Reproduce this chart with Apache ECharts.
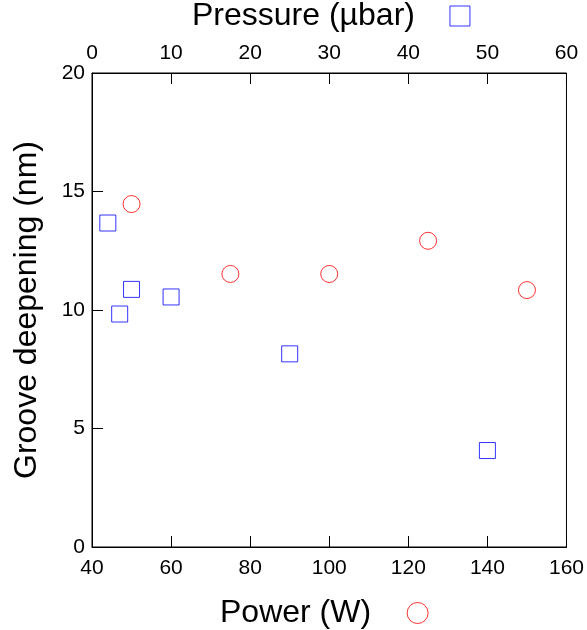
<!DOCTYPE html>
<html>
<head>
<meta charset="utf-8">
<script src="https://cdn.jsdelivr.net/npm/echarts@6/dist/echarts.min.js"></script>
<style>html,body{margin:0;padding:0;background:#fff}#c{width:587px;height:630px}</style>
</head>
<body>
<div id="c"></div>
<script>
// Data
const powerW = [50, 75, 100, 125, 150];
const powerDepth = [14.47, 11.52, 11.52, 12.92, 10.84];
const pressureUbar = [2, 3.5, 5, 10, 25, 50];
const pressureDepth = [13.67, 9.83, 10.87, 10.55, 8.15, 4.07];
const powerName = 'Power (W)';
const pressureName = 'Pressure (µbar)';
const yName = 'Groove deepening (nm)';

const FONT = "'Liberation Sans', Arial, Helvetica, sans-serif";
const chart = echarts.init(document.getElementById('c'), null, {renderer: 'canvas'});
const axisCommon = {
  axisLine: {show: true, lineStyle: {color: '#000', width: 1}},
  axisTick: {show: true, inside: true, length: 11, lineStyle: {color: '#000', width: 1}},
  splitLine: {show: false},
  axisLabel: {color: '#000', fontSize: 21, fontFamily: FONT}
};
chart.setOption({
  animation: false,
  backgroundColor: '#fff',
  grid: {left: 92, right: 19, top: 73, bottom: 83, show: true, borderColor: '#000', borderWidth: 1, backgroundColor: 'transparent'},
  legend: [
    {
      data: [{name: pressureName, icon: 'rect', itemStyle: {color: '#fff', borderColor: '#0000ff', borderWidth: 1}}],
      left: 192, top: 0, padding: 0, align: 'right', itemWidth: 20, itemHeight: 20,
      selectedMode: false,
      textStyle: {fontSize: 32, color: '#000', fontFamily: FONT, padding: [0, 30, 0, 0]}
    },
    {
      data: [{name: powerName, icon: 'circle', itemStyle: {color: '#fff', borderColor: '#ff0000', borderWidth: 1}}],
      left: 220, top: 597, padding: 0, align: 'right', itemWidth: 21, itemHeight: 21,
      selectedMode: false,
      textStyle: {fontSize: 32, color: '#000', fontFamily: FONT, padding: [0, 31, 0, 0]}
    }
  ],
  xAxis: [
    Object.assign({}, axisCommon, {
      type: 'value', position: 'bottom', min: 40, max: 160, interval: 20,
      axisLabel: Object.assign({}, axisCommon.axisLabel, {margin: 11})
    }),
    Object.assign({}, axisCommon, {
      type: 'value', position: 'top', min: 0, max: 60, interval: 10,
      axisLabel: Object.assign({}, axisCommon.axisLabel, {margin: 9})
    })
  ],
  yAxis: [
    Object.assign({}, axisCommon, {
      type: 'value', position: 'left', min: 0, max: 20, interval: 5,
      name: yName, nameLocation: 'middle', nameRotate: 90, nameGap: 49,
      nameTextStyle: {fontSize: 32, color: '#000', fontFamily: FONT},
      axisLabel: Object.assign({}, axisCommon.axisLabel, {margin: 7})
    })
  ],
  series: [
    {
      name: powerName, type: 'scatter', xAxisIndex: 0, yAxisIndex: 0,
      data: powerW.map((v, i) => [v, powerDepth[i]]),
      symbol: 'circle', symbolSize: 17, z: 3,
      itemStyle: {color: 'rgba(255,255,255,0)', borderColor: '#ff0000', borderWidth: 1}
    },
    {
      name: pressureName, type: 'scatter', xAxisIndex: 1, yAxisIndex: 0,
      data: pressureUbar.map((v, i) => [v, pressureDepth[i]]),
      symbol: 'rect', symbolSize: 16, z: 3,
      itemStyle: {color: 'rgba(255,255,255,0)', borderColor: '#0000ff', borderWidth: 1}
    }
  ]
});
</script>
</body>
</html>
